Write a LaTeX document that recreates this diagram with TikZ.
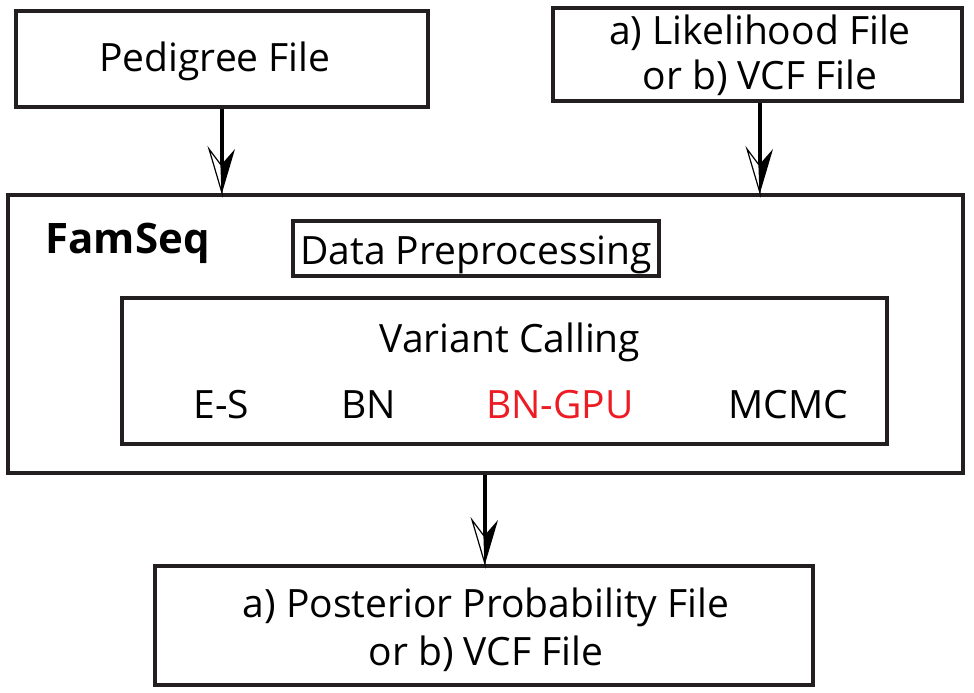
\documentclass[tikz,border=0pt]{standalone}
\usepackage{fontspec}
\setmainfont{Open Sans}
\definecolor{edge}{HTML}{231F20}
\definecolor{hot}{HTML}{ED1C24}
\tikzset{
  x=1pt, y=-1pt,
  box/.style={draw=edge, line width=4pt, minimum width=#1, inner sep=0pt, align=center},
  lbl/.style={inner sep=0pt, anchor=base, font=\fontsize{39}{46}\selectfont},
  conn/.style={draw=black, line width=4pt},
  pics/splithead/.style={code={
    \draw[line width=1.2pt, fill=white, line join=miter] (0,0) -- (-13,-44) -- (-1,-28) -- cycle;
    \fill[black] (0,0) -- (13,-44) -- (-1,-28) -- cycle;
  }}
}
\begin{document}
\begin{tikzpicture}
\useasboundingbox (0,0) rectangle (974,693);
\node[box=412pt, minimum height=95pt] (ped) at (222,59) {};
\node[lbl] (pedt) at (215,71) {Pedigree File};
\node[box=409pt, minimum height=93pt] (lik) at (757.5,54.5) {};
\node[lbl] (lik1) at (760,45) {a) Likelihood File};
\node[lbl] (lik2) at (760,89) {or b) VCF File};
\node[box=955pt, minimum height=278pt] (fam) at (485.5,334) {};
\node[lbl, font=\fontsize{42}{46}\selectfont\bfseries] (famt) at (127.5,253) {FamSeq};
\node[box=366pt, minimum height=55pt] (dp) at (476,248.5) {};
\node[lbl] (dpt) at (476,264) {Data Preprocessing};
\node[box=765pt, minimum height=146pt] (vc) at (504.5,371) {};
\node[lbl] (vct) at (510,352) {Variant Calling};
\node[lbl] (es) at (221.5,418) {E-S};
\node[lbl] (bn) at (369,418) {BN};
\node[lbl, text=hot] (gpu) at (560,418) {BN-GPU};
\node[lbl] (mc) at (788.5,418) {MCMC};
\node[box=658pt, minimum height=119pt] (out) at (484,625.5) {};
\node[lbl] (out1) at (486,617) {a) Posterior Probability File};
\node[lbl] (out2) at (486,665) {or b) VCF File};
\coordinate (xa) at (222,0);
\coordinate (xb) at (760,0);
\coordinate (xc) at (485,0);
\path[conn] (ped.south -| xa) -- ([yshift=28pt]fam.north -| xa);
\pic at (fam.north -| xa) {splithead};
\path[conn] (lik.south -| xb) -- ([yshift=28pt]fam.north -| xb);
\pic at (fam.north -| xb) {splithead};
\path[conn] (fam.south -| xc) -- ([yshift=28pt]out.north -| xc);
\pic at (out.north -| xc) {splithead};
\end{tikzpicture}
\end{document}
